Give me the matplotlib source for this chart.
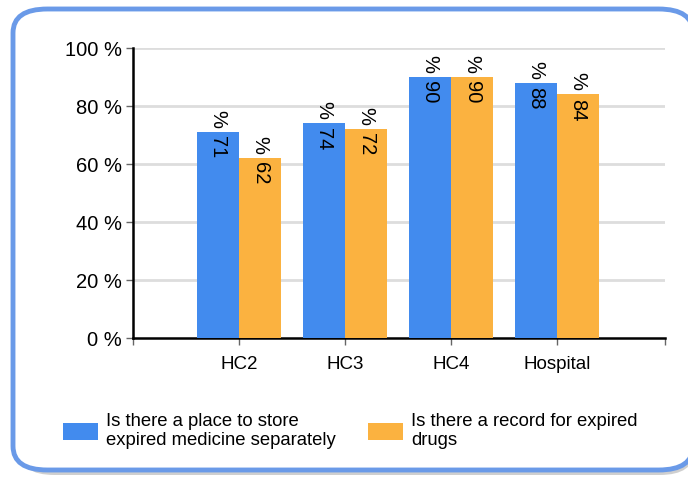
import numpy as np
import matplotlib.pyplot as plt
from matplotlib.patches import FancyBboxPatch, Patch

plt.rcParams['font.family'] = ['Liberation Sans', 'DejaVu Sans']

categories = ['HC2', 'HC3', 'HC4', 'Hospital']
store_separately = [71, 74, 90, 88]
record_expired = [62, 72, 90, 84]
series_names = ['Is there a place to store\nexpired medicine separately',
                'Is there a record for expired\ndrugs']
y_ticks = [0, 20, 40, 60, 80, 100]

blue = '#428bee'
orange = '#fbb240'

fig = plt.figure(figsize=(6.88, 4.79), dpi=100)

# rounded frame with a soft shadow
shadow = FancyBboxPatch((20 / 688, 4 / 479), 674 / 688, 462 / 479,
                        boxstyle='round,pad=0,rounding_size=0.05',
                        transform=fig.transFigure, facecolor='#b0b0b0',
                        edgecolor='none', alpha=0.6, zorder=0)
frame = FancyBboxPatch((13 / 688, 9 / 479), 680 / 688, 461 / 479,
                       boxstyle='round,pad=0,rounding_size=0.05',
                       transform=fig.transFigure, facecolor='white',
                       edgecolor='#6a9ae8', linewidth=3.5, zorder=1)
fig.patches.extend([shadow, frame])

ax = fig.add_axes([133 / 688, 1 - 338 / 479, 532 / 688, 290 / 479])
ax.set_facecolor('none')
ax.set_zorder(2)

x = np.arange(1, len(categories) + 1)
w = 0.4
b1 = ax.bar(x - w / 2, store_separately, w, color=blue, zorder=3)
b2 = ax.bar(x + w / 2, record_expired, w, color=orange, zorder=3)

for bars, vals in [(b1, store_separately), (b2, record_expired)]:
    for bar, v in zip(bars, vals):
        cx = bar.get_x() + bar.get_width() / 2
        ax.annotate('%', (cx, v), xytext=(0, 3), textcoords='offset points',
                    rotation=270, ha='center', va='bottom', fontsize=14.5, zorder=4)
        ax.annotate(str(v), (cx, v), xytext=(0, -3), textcoords='offset points',
                    rotation=270, ha='center', va='top', fontsize=14.5, zorder=4)

ax.set_xlim(0, 5.02)
ax.set_ylim(0, 100)
ax.set_yticks(y_ticks)
ax.set_yticklabels([f'{t} %' for t in y_ticks], fontsize=14.5)
ax.set_xticks([0] + list(x) + [5.02])
ax.set_xticklabels([''] + categories + [''], fontsize=13.5)
ax.tick_params(axis='y', length=5, width=1, color='#666666', pad=3)
ax.tick_params(axis='x', length=5, width=1, color='#666666', pad=8)

for t in y_ticks[1:]:
    ax.axhline(t, color='#dddddd', linewidth=2, zorder=1)

for s in ['top', 'right']:
    ax.spines[s].set_visible(False)
ax.spines['left'].set_linewidth(1.8)
ax.spines['bottom'].set_linewidth(1.8)

handles = [Patch(facecolor=blue), Patch(facecolor=orange)]
fig.legend(handles, series_names, loc='center', ncol=2,
           bbox_to_anchor=(0.509, 0.1), frameon=False, fontsize=13.3,
           handlelength=1.9, handleheight=1.0, columnspacing=1.7,
           handletextpad=0.45, labelspacing=0.2)

fig.savefig('out.png', dpi=100)
